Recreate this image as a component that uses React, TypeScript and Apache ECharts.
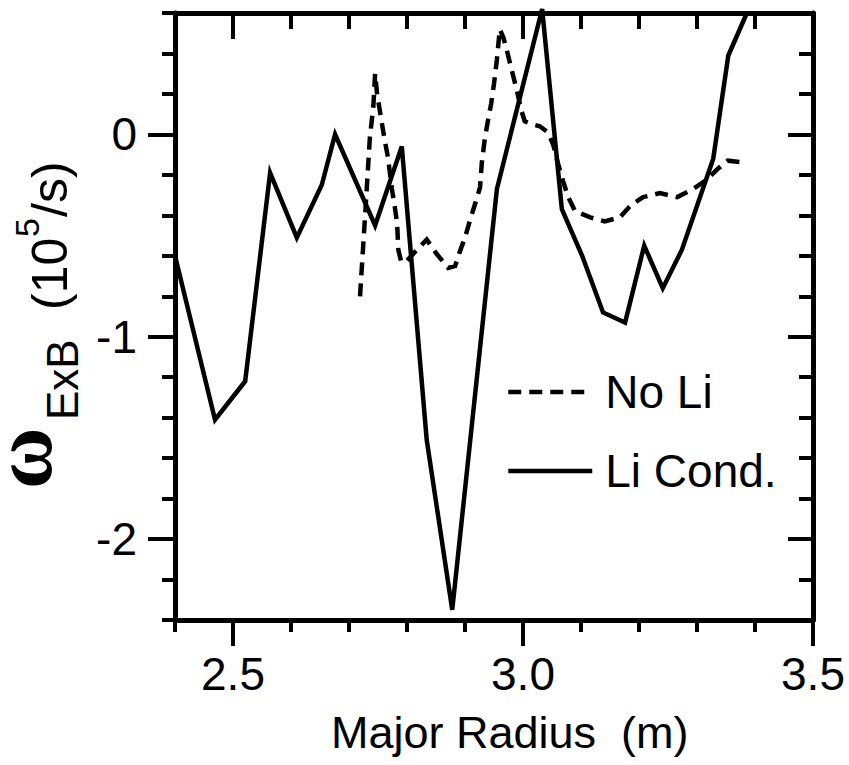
import React, { useEffect, useRef } from "react";
import * as echarts from "echarts";

// ---- data ----
const seriesNames = ["No Li", "Li Cond."];

const xNoLi = [
  2.719, 2.728, 2.736, 2.742, 2.745, 2.748, 2.753, 2.757, 2.762, 2.767,
  2.774, 2.779, 2.783, 2.785, 2.790, 2.798, 2.814, 2.834, 2.851, 2.871,
  2.883, 2.891, 2.900, 2.909, 2.920, 2.926, 2.929, 2.934, 2.940, 2.945,
  2.950, 2.955, 2.960, 2.966, 2.971, 2.976, 2.983, 2.990, 2.997, 3.003,
  3.016, 3.029, 3.043, 3.052, 3.060, 3.069, 3.078, 3.090, 3.116, 3.141,
  3.167, 3.186, 3.207, 3.236, 3.266, 3.293, 3.314, 3.336, 3.353, 3.386,
];
const yNoLi = [
  -0.80, -0.39, -0.015, 0.14, 0.30, 0.21, 0.12, 0.05, -0.035, -0.11,
  -0.27, -0.36, -0.44, -0.57, -0.63, -0.63, -0.58, -0.52, -0.59, -0.66,
  -0.65, -0.58, -0.51, -0.42, -0.32, -0.26, -0.14, -0.025, 0.075, 0.15,
  0.25, 0.37, 0.52, 0.48, 0.43, 0.37, 0.29, 0.21, 0.12, 0.065,
  0.05, 0.04, 0.01, -0.05, -0.14, -0.23, -0.31, -0.38, -0.41, -0.43,
  -0.41, -0.35, -0.31, -0.29, -0.31, -0.27, -0.23, -0.17, -0.13, -0.14,
];

const xLi = [
  2.400, 2.469, 2.521, 2.564, 2.610, 2.653, 2.676, 2.745, 2.791, 2.834,
  2.878, 2.955, 3.033, 3.067, 3.102, 3.138, 3.176, 3.209, 3.241, 3.274,
  3.328, 3.354, 3.386,
];
const yLi = [
  -0.60, -1.41, -1.22, -0.19, -0.51, -0.25, 0.00, -0.45, -0.06, -1.51,
  -2.35, -0.27, 0.62, -0.37, -0.60, -0.88, -0.93, -0.55, -0.76, -0.57,
  -0.12, 0.39, 0.60,
];

const xRange = [2.4, 3.5];
const yRange = [-2.4, 0.6];
const xMajorTicks = [2.5, 3.0, 3.5];
const yMajorTicks = [-2, -1, 0];
const xMinorStep = 0.1;
const yMinorStep = 0.2;
const xTitle = "Major Radius  (m)";
const yTitleParts = ["ω", "ExB", "(10", "5", "/s)"];

const FONT = '"Liberation Sans", Arial, Helvetica, sans-serif';
const SERIF = '"Liberation Serif", "DejaVu Serif", serif';
const BLACK = "#000";
const DASH = [13, 8];

const isMajor = (v: number, majors: number[]) =>
  majors.some((m) => Math.abs(m - v) < 1e-6);

export default function App() {
  const ref = useRef<HTMLDivElement>(null);

  useEffect(() => {
    if (!ref.current) return;
    const chart = echarts.init(ref.current, null, { renderer: "svg" });

    const tickStyle = { color: BLACK, width: 4 };
    const lineStyle = { color: BLACK, width: 5 };

    const xBase = {
      type: "value" as const,
      min: xRange[0],
      max: xRange[1],
      splitLine: { show: false },
    };
    const yBase = {
      type: "value" as const,
      min: yRange[0],
      max: yRange[1],
      splitLine: { show: false },
    };

    const option: any = {
      animation: false,
      backgroundColor: "#fff",
      grid: { left: 175, right: 36, top: 13, bottom: 145, containLabel: false },
      xAxis: [
        {
          ...xBase,
          position: "bottom",
          interval: xMinorStep,
          axisLine: { show: true, onZero: false, lineStyle },
          axisTick: { show: true, inside: false, length: 12, lineStyle: tickStyle },
          axisLabel: {
            show: true,
            margin: 31,
            fontSize: 46,
            fontFamily: FONT,
            color: BLACK,
            formatter: (v: number) => (isMajor(v, xMajorTicks) ? v.toFixed(1) : ""),
          },
        },
        {
          ...xBase,
          position: "bottom",
          axisLine: { show: false, onZero: false },
          axisTick: { show: true, inside: false, length: 26, customValues: xMajorTicks, lineStyle: tickStyle },
          axisLabel: { show: false },
        },
        {
          ...xBase,
          position: "top",
          interval: xMinorStep,
          axisLine: { show: true, onZero: false, lineStyle },
          axisTick: { show: true, inside: true, length: 16, lineStyle: tickStyle },
          axisLabel: { show: false },
        },
        {
          ...xBase,
          position: "top",
          axisLine: { show: false, onZero: false },
          axisTick: { show: true, inside: true, length: 26, customValues: xMajorTicks, lineStyle: tickStyle },
          axisLabel: { show: false },
        },
      ],
      yAxis: [
        {
          ...yBase,
          position: "left",
          interval: yMinorStep,
          axisLine: { show: true, onZero: false, lineStyle },
          axisTick: { show: true, inside: false, length: 13, lineStyle: tickStyle },
          axisLabel: {
            show: true,
            margin: 38,
            fontSize: 46,
            fontFamily: FONT,
            color: BLACK,
            formatter: (v: number) =>
              isMajor(v, yMajorTicks) ? String(Math.round(v)) : "",
          },
        },
        {
          ...yBase,
          position: "left",
          axisLine: { show: false, onZero: false },
          axisTick: { show: true, inside: false, length: 27, customValues: yMajorTicks, lineStyle: tickStyle },
          axisLabel: { show: false },
        },
        {
          ...yBase,
          position: "right",
          interval: yMinorStep,
          axisLine: { show: true, onZero: false, lineStyle },
          axisTick: { show: true, inside: true, length: 14, lineStyle: tickStyle },
          axisLabel: { show: false },
        },
        {
          ...yBase,
          position: "right",
          axisLine: { show: false, onZero: false },
          axisTick: { show: true, inside: true, length: 25, customValues: yMajorTicks, lineStyle: tickStyle },
          axisLabel: { show: false },
        },
      ],
      legend: {
        show: true,
        orient: "vertical",
        left: 501,
        top: 364,
        itemWidth: 84,
        itemHeight: 2,
        itemGap: 33,
        selectedMode: false,
        itemStyle: { color: "rgba(0,0,0,0)", borderColor: "rgba(0,0,0,0)", borderWidth: 0 },
        data: [
          { name: seriesNames[0], lineStyle: { color: BLACK, width: 4.5, type: DASH } },
          { name: seriesNames[1], lineStyle: { color: BLACK, width: 4.5, type: "solid" } },
        ],
        textStyle: {
          fontSize: 46,
          fontFamily: FONT,
          color: BLACK,
          padding: [0, 0, 0, 8],
        },
      },
      series: [
        {
          name: seriesNames[0],
          type: "line",
          xAxisIndex: 0,
          yAxisIndex: 0,
          symbol: "none",
          data: xNoLi.map((x, i) => [x, yNoLi[i]]),
          lineStyle: { color: BLACK, width: 4.5, type: DASH, join: "miter", cap: "butt" },
          itemStyle: { color: BLACK },
        },
        {
          name: seriesNames[1],
          type: "line",
          xAxisIndex: 0,
          yAxisIndex: 0,
          symbol: "none",
          clip: false,
          data: xLi.map((x, i) => [x, yLi[i]]),
          lineStyle: { color: BLACK, width: 4.5, type: "solid", join: "miter", miterLimit: 10, cap: "butt" },
          itemStyle: { color: BLACK },
        },
      ],
      graphic: [
        {
          type: "group",
          x: 0,
          y: 765,
          rotation: Math.PI / 2,
          children: [
            {
              type: "text",
              x: 276,
              y: 22,
              style: { text: yTitleParts[0], fontSize: 84, fontWeight: "bold", fontFamily: SERIF, fill: BLACK, align: "left", verticalAlign: "middle" },
            },
            {
              type: "text",
              x: 345,
              y: 62,
              style: { text: yTitleParts[1], fontSize: 44, fontFamily: FONT, fill: BLACK, align: "left", verticalAlign: "middle" },
            },
            {
              type: "text",
              x: 455,
              y: 50,
              style: { text: yTitleParts[2], fontSize: 50, fontFamily: FONT, fill: BLACK, align: "left", verticalAlign: "middle" },
            },
            {
              type: "text",
              x: 528,
              y: 27,
              style: { text: yTitleParts[3], fontSize: 34, fontFamily: FONT, fill: BLACK, align: "left", verticalAlign: "middle" },
            },
            {
              type: "text",
              x: 548,
              y: 50,
              style: { text: yTitleParts[4], fontSize: 50, fontFamily: FONT, fill: BLACK, align: "left", verticalAlign: "middle" },
            },
          ],
        },
        {
          type: "text",
          x: 331,
          y: 732,
          style: { text: xTitle, fontSize: 45, fontFamily: FONT, fill: BLACK, align: "left", verticalAlign: "middle" },
        },
      ],
    };

    chart.setOption(option);
    return () => chart.dispose();
  }, []);

  return (
    <div
      ref={ref}
      style={{ position: "fixed", left: 0, top: 0, width: 849, height: 765, background: "#fff" }}
    />
  );
}
